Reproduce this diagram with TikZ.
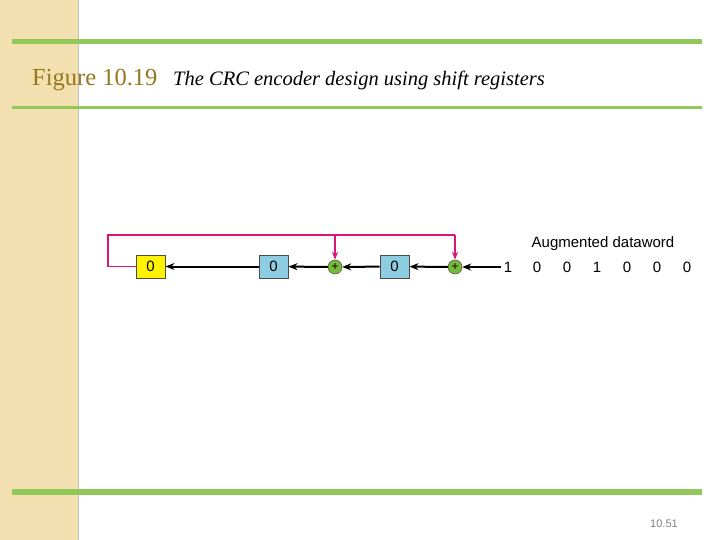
\documentclass[tikz,border=0pt]{standalone}
\usepackage{fontspec}
\setmainfont{Liberation Serif}
\newfontfamily\sans{Liberation Sans}
\usetikzlibrary{arrows.meta}
\definecolor{tan}{RGB}{242,224,176}
\definecolor{grn}{RGB}{146,200,90}
\definecolor{olive}{RGB}{150,120,30}
\definecolor{mag}{RGB}{220,20,120}
\definecolor{sky}{RGB}{140,205,225}
\definecolor{xg}{RGB}{120,185,60}
\begin{document}
\begin{tikzpicture}[x=1pt,y=-1pt,
 reg/.style={draw=black!70,line width=1pt,minimum width=29pt,minimum height=23pt,inner sep=0pt,font=\sans\fontsize{15}{17}\selectfont},
 xo/.style={circle,draw=black!80,fill=xg,minimum size=14pt,inner sep=0pt,font=\sans\fontsize{12}{12}\selectfont},
 dig/.style={font=\sans\fontsize{15}{17}\selectfont,inner sep=0pt},
 arr/.style={-{Stealth[length=9pt,width=7pt]},line width=2pt},
 fb/.style={mag,line width=1.7pt}]
\useasboundingbox (0,0) rectangle (720,540);
\fill[white] (0,0) rectangle (720,540);
\fill[tan] (0,0) rectangle (78,540);
\draw[black!25] (78,0) -- (78,540);
\fill[grn] (12,39.5) rectangle (702,44.5);
\fill[grn] (12,106.5) rectangle (702,109.5);
\fill[grn] (12,489) rectangle (702,495);
\node[anchor=base west,inner sep=0pt,text=olive,font=\fontsize{24.5}{26}\selectfont] (fig) at (32,86) {Figure 10.19};
\node[anchor=base west,inner sep=0pt,font=\itshape\fontsize{20.5}{22}\selectfont] (cap) at (173,86) {The CRC encoder design using shift registers};
\node[anchor=base,inner sep=0pt,text=black!50,font=\sans\fontsize{11}{12}\selectfont] (pg) at (664,527) {10.51};
\node[reg,fill=yellow] (r0) at (150.5,266.5) {0};
\node[reg,fill=sky] (r1) at (273.5,266.5) {0};
\node[xo] (x1) at (335,267) {+};
\node[reg,fill=sky] (r2) at (394.5,266.5) {0};
\node[xo] (x2) at (455,267) {+};
\node[dig] (d0) at (508,267) {1};
\foreach \i/\xx in {1/537,2/567,3/597,4/627,5/657,6/687}{
 \node[dig] (d\i) at (\xx,267) {\ifnum\i=3 1\else 0\fi};}
\node[font=\sans\fontsize{15}{17}\selectfont,inner sep=0pt] (aug) at (603,244) {Augmented dataword};
\draw[arr] (d0.west) ++(-3,0) coordinate (s) -- (x2);
\draw[arr] (x2) -- (r2);
\draw[arr] (r2) -- (x1);
\draw[arr] (x1) -- (r1);
\draw[arr] (r1) -- (r0);
\coordinate (c1) at (108,235);
\draw[fb] (r0.west) -- (108,266.5) -- (c1) -- (455,235);
\draw[fb,-{Stealth[length=8pt,width=6pt]}] (335,235) -- (x1.north);
\draw[fb,-{Stealth[length=8pt,width=6pt]}] (455,235) -- (x2.north);
\end{tikzpicture}
\end{document}
